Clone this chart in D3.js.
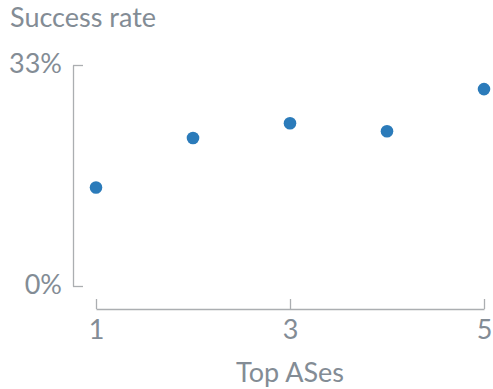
<!DOCTYPE html>
<html>
<head>
<meta charset="utf-8">
<script src="https://cdn.jsdelivr.net/npm/d3@7"></script>
<style>
  body { margin: 0; background: #fff; }
  svg text { font-family: Lato, "Open Sans", sans-serif; fill: #838c95; }
</style>
</head>
<body>
<svg width="493" height="389"></svg>
<script>
var ranks = [1, 2, 3, 4, 5];
var successRate = [0.147, 0.221, 0.243, 0.231, 0.294];
var yTicks = [0, 0.33];
var xTicks = [1, 3, 5];

var svg = d3.select("svg");

var x = d3.scaleLinear().domain([1, 5]).range([96, 484]);
var y = d3.scaleLinear().domain([0, 0.33]).range([286, 65]);

var axisColor = "#abaeb1";
var fontSize = 27;

// y axis, ticks pointing inward
var yAxis = svg.append("g")
    .attr("transform", "translate(73,0)")
    .call(d3.axisLeft(y)
        .tickValues(yTicks)
        .tickFormat(d3.format(".0%"))
        .tickSizeInner(-10)
        .tickSizeOuter(0)
        .tickPadding(11));

// x axis, offset below
var xAxis = svg.append("g")
    .attr("transform", "translate(0,309)")
    .call(d3.axisBottom(x)
        .tickValues(xTicks)
        .tickFormat(d3.format("d"))
        .tickSizeInner(-10)
        .tickSizeOuter(0)
        .tickPadding(11));

[yAxis, xAxis].forEach(function (g) {
    g.select(".domain").attr("stroke", axisColor).attr("stroke-width", 1.3);
    g.selectAll(".tick line").attr("stroke", axisColor).attr("stroke-width", 1.3);
    g.selectAll(".tick text")
        .attr("fill", null)
        .style("font-size", fontSize + "px");
});
yAxis.selectAll(".tick text").attr("dy", "0.26em");

svg.append("g")
    .selectAll("circle")
    .data(ranks)
    .enter().append("circle")
    .attr("cx", function (d) {
        return x(d);
    })
    .attr("cy", function (d, i) {
        return y(successRate[i]);
    })
    .attr("r", 6.3)
    .attr("fill", "#2b7bba");

svg.append("text")
    .attr("x", 10)
    .attr("y", 27)
    .style("font-size", fontSize + "px")
    .text("Success rate");

svg.append("text")
    .attr("x", 290)
    .attr("y", 382)
    .attr("text-anchor", "middle")
    .style("font-size", fontSize + "px")
    .text("Top ASes");
</script>
</body>
</html>
